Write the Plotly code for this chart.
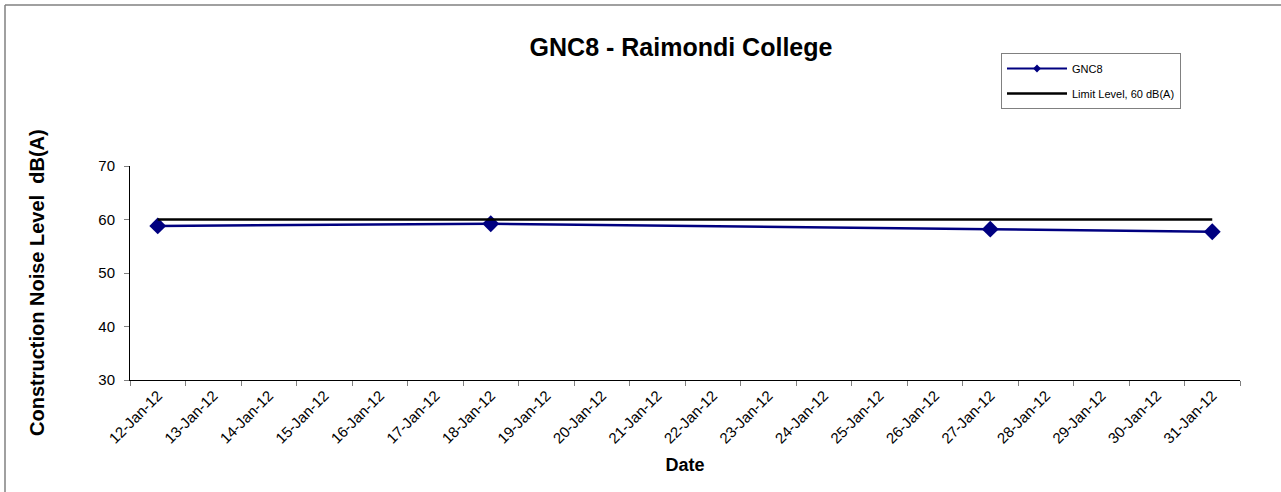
import plotly.graph_objects as go

dates = ["12-Jan-12", "13-Jan-12", "14-Jan-12", "15-Jan-12", "16-Jan-12", "17-Jan-12",
         "18-Jan-12", "19-Jan-12", "20-Jan-12", "21-Jan-12", "22-Jan-12", "23-Jan-12",
         "24-Jan-12", "25-Jan-12", "26-Jan-12", "27-Jan-12", "28-Jan-12", "29-Jan-12",
         "30-Jan-12", "31-Jan-12"]
gnc8_dates = ["12-Jan-12", "18-Jan-12", "27-Jan-12", "31-Jan-12"]
gnc8_values = [58.8, 59.2, 58.2, 57.7]
limit_dates = ["12-Jan-12", "31-Jan-12"]
limit_values = [60, 60]

FONT = "Liberation Sans, Arial, sans-serif"
NAVY = "#000080"

fig = go.Figure()
fig.add_trace(go.Scatter(
    x=gnc8_dates, y=gnc8_values, name="GNC8", mode="lines+markers",
    line=dict(color=NAVY, width=2.5),
    marker=dict(symbol="diamond", size=13, color=NAVY),
    showlegend=False,
))
# legend-only entry (smaller marker as in the reference legend)
fig.add_trace(go.Scatter(
    x=[None], y=[None], name="GNC8", mode="lines+markers",
    line=dict(color=NAVY, width=2),
    marker=dict(symbol="diamond", size=6, color=NAVY),
    legendgroup="a",
))
fig.add_trace(go.Scatter(
    x=limit_dates, y=limit_values, name="Limit Level, 60 dB(A)", mode="lines",
    line=dict(color="#000000", width=2.5),
    legendgroup="b",
))

L, R, T, B = 130, 41, 166, 112
W, H = 1281, 492
pw, ph = W - L - R, H - T - B

def px(x):
    return (x - L) / pw

def py(y):
    return (H - B - y) / ph

fig.update_layout(
    width=W, height=H,
    margin=dict(l=L, r=R, t=T, b=B),
    paper_bgcolor="white", plot_bgcolor="white",
    font=dict(family=FONT, color="black"),
    title=dict(text="<b>GNC8 - Raimondi College</b>", xref="container", x=681 / W, xanchor="center",
               yref="container", y=1 - 47 / H, yanchor="middle", font=dict(size=25, family=FONT)),
    showlegend=True,
    legend=dict(x=px(1001), y=py(53), xanchor="left", yanchor="top",
                bordercolor="#808080", borderwidth=1, bgcolor="white",
                font=dict(size=11, family=FONT), tracegroupgap=6,
                itemwidth=60, entrywidth=168),
    shapes=[
        dict(type="line", xref="paper", yref="paper", x0=px(5), x1=px(1290), y0=py(5), y1=py(5),
             line=dict(color="#808080", width=1.5)),
        dict(type="line", xref="paper", yref="paper", x0=px(5), x1=px(5), y0=py(5), y1=py(500),
             line=dict(color="#808080", width=1.5)),
    ],
    annotations=[
        dict(text="<b>Construction Noise Level \u00a0dB(A)</b>", textangle=-90,
             xref="paper", yref="paper", x=px(37), y=py(283), xanchor="center", yanchor="middle",
             showarrow=False, font=dict(size=20, family=FONT)),
    ],
)

fig.update_xaxes(
    type="category", categoryorder="array", categoryarray=dates,
    range=[-0.5, len(dates) - 0.5],
    tickmode="array", tickvals=dates, ticktext=dates,
    tickson="boundaries", ticks="outside", ticklen=5, tickcolor="#808080",
    tickangle=-45, tickfont=dict(size=15, family=FONT),
    showline=True, linecolor="black", linewidth=1, showgrid=False, zeroline=False,
    title=dict(text="<b>Date</b>", font=dict(size=18, family=FONT), standoff=12),
)
fig.update_yaxes(
    range=[30, 70], tickvals=[30, 40, 50, 60, 70],
    ticks="outside", ticklen=5, tickcolor="#808080", ticklabelstandoff=6,
    tickfont=dict(size=15, family=FONT),
    showline=True, linecolor="black", linewidth=1, showgrid=False, zeroline=False,
)

fig.write_html("out.html", config={"displayModeBar": False},
               post_script="document.body.style.margin='0px';document.body.style.overflow='hidden';")
